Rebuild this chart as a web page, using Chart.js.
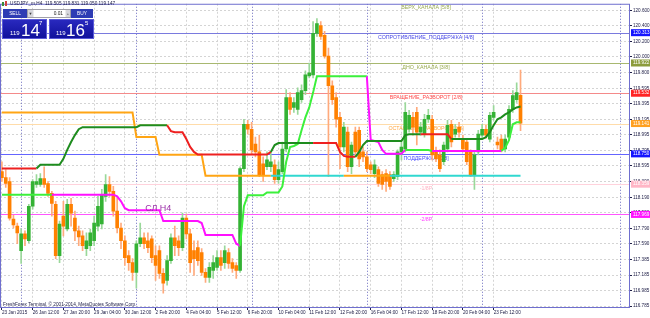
<!DOCTYPE html>
<html>
<head>
<meta charset="utf-8">
<script src="https://cdn.jsdelivr.net/npm/chart.js@4.4.1/dist/chart.umd.min.js"></script>
<style>
html,body{margin:0;padding:0;background:#fff;}
canvas{display:block;}
</style>
</head>
<body>
<canvas id="grapharea" width="650" height="318"></canvas>
<script>
// USDJPY_m, H4 - one bar every 4 hours, 23 Jan .. 23 Feb 2015
const openP = [
  118.520,118.444,118.393,117.909,117.819,117.501,117.718,117.629,118.074,118.355,
  118.355,118.431,118.368,118.240,118.100,117.437,117.947,117.781,118.100,117.922,
  117.756,117.692,117.527,117.565,117.629,117.819,117.845,118.202,118.355,118.266,
  118.011,117.794,117.629,117.437,117.348,117.221,117.591,117.667,117.629,117.654,
  117.437,117.501,117.208,117.119,117.374,117.667,117.629,117.540,117.922,117.718,
  117.501,117.540,117.476,117.221,117.157,117.246,117.285,117.412,117.348,117.476,
  117.348,117.310,117.246,118.559,119.132,119.068,118.877,118.775,118.622,118.584,
  118.584,118.610,118.418,118.520,118.813,119.476,119.349,119.323,119.450,119.565,
  119.756,119.769,120.304,120.406,120.278,120.011,119.629,119.476,119.221,118.839,
  119.030,118.584,119.030,119.055,118.775,118.712,118.610,118.495,118.546,118.482,
  118.495,118.482,118.431,118.457,118.775,118.813,119.068,119.221,119.285,119.030,
  119.004,119.196,119.196,118.775,118.737,118.648,118.813,119.132,119.004,119.094,
  118.941,118.903,118.775,118.482,118.775,118.992,119.068,118.941,119.221,118.903,
  118.941,118.813,118.966,119.323,119.450,119.505
];
const highP = [
  118.648,118.546,118.444,117.960,117.858,117.781,117.756,118.100,118.418,118.482,
  118.495,118.584,118.393,118.266,118.138,117.883,118.138,118.163,118.176,118.011,
  117.819,117.756,117.731,117.781,117.947,118.202,118.291,118.482,118.457,118.330,
  118.176,117.858,117.692,117.501,117.399,117.629,117.858,117.731,117.731,117.692,
  117.565,117.565,117.272,117.437,117.718,117.819,117.692,117.985,117.973,117.781,
  117.629,117.629,117.527,117.272,117.348,117.437,117.501,117.501,117.565,117.527,
  117.399,117.348,118.584,119.196,119.183,119.157,118.966,118.992,118.712,118.775,
  118.775,118.673,118.648,118.903,119.578,119.540,119.476,119.603,119.641,119.820,
  119.922,120.457,120.495,120.457,120.329,120.113,119.692,119.540,119.285,119.157,
  119.094,118.903,119.094,119.094,118.839,118.775,118.648,118.673,118.584,118.520,
  118.546,118.520,118.520,118.801,118.903,119.412,119.310,119.285,119.349,119.157,
  119.259,119.323,119.247,118.839,118.801,118.903,119.183,119.183,119.132,119.157,
  118.992,118.941,118.801,118.775,119.055,119.132,119.119,119.285,119.374,118.966,
  118.992,118.992,119.374,119.565,119.667,119.831
];
const lowP = [
  118.393,118.317,117.896,117.794,117.591,117.336,117.565,117.603,118.036,118.317,
  118.330,118.317,118.202,117.947,117.399,117.348,117.692,117.756,117.819,117.629,
  117.565,117.501,117.437,117.501,117.565,117.756,117.781,118.138,118.202,117.947,
  117.731,117.527,117.310,117.246,117.119,117.017,117.552,117.527,117.476,117.348,
  117.119,117.144,116.953,117.055,117.336,117.437,117.437,117.501,117.654,117.221,
  117.183,117.310,117.183,117.093,117.093,117.144,117.246,117.246,117.272,117.272,
  117.221,117.144,117.221,118.520,119.004,118.750,118.712,118.457,118.393,118.546,
  118.520,118.368,118.368,118.495,118.775,119.259,119.285,119.259,119.412,119.514,
  119.731,119.731,120.266,120.227,119.985,118.457,119.387,119.094,118.559,118.775,
  118.520,118.495,118.712,118.584,118.648,118.520,118.495,118.444,118.330,118.291,
  118.266,118.291,118.393,118.418,118.673,118.775,119.030,118.992,118.864,118.992,
  118.966,119.157,118.673,118.648,118.520,118.610,118.775,118.839,118.966,118.966,
  118.775,118.610,118.457,118.291,118.737,118.954,118.954,118.903,119.183,118.813,
  118.775,118.775,118.928,119.285,119.412,119.050
];
const closeP = [
  118.444,118.368,117.922,117.832,117.731,117.718,117.654,118.074,118.393,118.393,
  118.431,118.355,118.240,118.112,117.437,117.845,117.819,118.100,117.985,117.756,
  117.680,117.565,117.629,117.731,117.858,118.074,118.227,118.355,118.266,118.011,
  117.794,117.629,117.412,117.348,117.221,117.591,117.667,117.591,117.540,117.412,
  117.310,117.208,117.081,117.374,117.667,117.565,117.540,117.922,117.718,117.348,
  117.399,117.374,117.221,117.157,117.285,117.348,117.412,117.310,117.501,117.336,
  117.272,117.246,118.559,119.132,119.068,118.801,118.775,118.482,118.482,118.673,
  118.648,118.418,118.546,118.813,119.476,119.323,119.412,119.540,119.565,119.769,
  119.794,120.304,120.431,120.266,120.011,119.629,119.450,119.196,118.839,119.094,
  118.584,118.864,118.775,118.686,118.712,118.559,118.546,118.610,118.368,118.355,
  118.393,118.330,118.482,118.775,118.839,119.285,119.247,119.094,119.030,119.094,
  119.196,119.247,118.737,118.686,118.559,118.864,119.119,118.903,119.068,119.030,
  118.813,118.648,118.482,118.737,119.004,119.068,118.992,119.247,119.285,118.864,
  118.801,118.941,119.323,119.501,119.540,119.147
];

// trend line (green = 1, red = 0)
const midLine = [
  118.562,118.562,118.562,118.562,118.562,118.562,118.562,118.562,118.562,118.562,
  118.610,118.610,118.610,118.610,118.610,118.610,118.686,118.801,118.903,118.992,
  119.068,119.094,119.094,119.094,119.094,119.094,119.094,119.094,119.094,119.094,
  119.094,119.094,119.094,119.094,119.094,119.094,119.119,119.119,119.119,119.119,
  119.119,119.119,119.119,119.119,119.043,119.030,119.030,119.030,118.941,118.839,
  118.775,118.741,118.741,118.741,118.741,118.741,118.741,118.741,118.741,118.741,
  118.741,118.741,118.741,118.741,118.741,118.741,118.741,118.741,118.741,118.741,
  118.775,118.864,118.890,118.890,118.890,118.890,118.890,118.890,118.890,118.890,
  118.890,118.890,118.890,118.890,118.890,118.890,118.890,118.890,118.775,118.724,
  118.712,118.712,118.712,118.775,118.864,118.915,118.915,118.915,118.915,118.915,
  118.915,118.915,118.915,118.915,118.915,118.992,119.004,119.004,119.004,119.004,
  119.004,119.004,119.004,119.004,119.004,119.004,119.004,118.941,118.941,118.941,
  118.941,118.941,118.941,118.941,118.941,118.941,118.966,119.030,119.119,119.196,
  119.221,119.259,119.285,119.323,119.349,119.361
];
const midTrend = [
  0,0,0,0,0,0,0,0,0,1, 1,1,1,1,1,1,1,1,1,1,
  1,1,1,1,1,1,1,1,1,1, 1,1,1,1,1,1,1,1,1,1,
  1,1,1,0,0,0,0,0,0,0, 0,0,0,0,0,0,0,0,0,0,
  0,0,0,0,0,0,0,0,0,0, 1,1,1,1,1,1,1,1,1,1,
  1,0,0,0,0,0,0,0,0,0, 0,0,1,1,1,1,1,1,1,1,
  1,1,1,1,1,1,1,1,1,0, 0,0,0,0,0,0,0,1,1,1,
  1,1,1,1,1,1,1,1,1,1, 1,1,1,1,1,1
];

// stop line (orange = 1, turquoise = 0)
const stopLine = [
  119.285,119.285,119.285,119.285,119.285,119.285,119.285,119.285,119.285,119.285,
  119.285,119.285,119.285,119.285,119.285,119.285,119.285,119.285,119.285,119.285,
  119.285,119.285,119.285,119.285,119.285,119.285,119.285,119.285,119.285,119.285,
  119.285,119.285,119.285,119.285,119.285,118.966,118.966,118.966,118.966,118.966,
  118.966,118.737,118.737,118.737,118.737,118.737,118.737,118.737,118.737,118.737,
  118.737,118.737,118.737,118.469,118.469,118.469,118.469,118.469,118.469,118.469,
  118.469,118.469,118.469,118.469,118.469,118.469,118.469,118.469,118.469,118.469,
  118.469,118.469,118.469,118.469,118.469,118.469,118.469,118.469,118.469,118.469,
  118.469,118.469,118.469,118.469,118.469,118.469,118.469,118.469,118.469,118.469,
  118.469,118.469,118.469,118.469,118.469,118.469,118.469,118.469,118.469,118.469,
  118.469,118.469,118.469,118.469,118.469,118.469,118.469,118.469,118.469,118.469,
  118.469,118.469,118.469,118.469,118.469,118.469,118.469,118.469,118.469,118.469,
  118.469,118.469,118.469,118.469,118.469,118.469,118.469,118.469,118.469,118.469,
  118.469,118.469,118.469,118.469,118.469,118.469
];
const stopTrend = [
  1,1,1,1,1,1,1,1,1,1, 1,1,1,1,1,1,1,1,1,1,
  1,1,1,1,1,1,1,1,1,1, 1,1,1,1,1,1,1,1,1,1,
  1,1,1,1,1,1,1,1,1,1, 1,1,1,1,1,1,1,1,1,1,
  1,1,1,1,1,1,1,1,1,1, 0,0,0,0,0,0,0,0,0,0,
  0,0,0,0,0,0,0,0,0,1, 1,1,1,1,1,1,1,1,1,1,
  1,0,0,0,0,0,0,0,0,0, 0,0,0,0,0,0,0,0,0,0,
  0,0,0,0,0,0,0,0,0,0, 0,0,0,0,0,0
];

// СЛ H4 line (lime = 1, magenta = 0)
const slLine = [
  118.224,118.224,118.224,118.224,118.224,118.224,118.224,118.224,118.224,118.224,
  118.224,118.224,118.224,118.224,118.224,118.224,118.224,118.224,118.224,118.224,
  118.224,118.224,118.224,118.224,118.224,118.224,118.224,118.224,118.224,118.224,
  118.202,118.138,118.049,118.024,118.024,118.024,118.024,118.024,118.024,118.024,
  118.024,118.024,117.883,117.883,117.883,117.883,117.883,117.883,117.883,117.883,
  117.883,117.883,117.858,117.705,117.705,117.705,117.705,117.705,117.705,117.705,
  117.705,117.591,117.565,118.074,118.215,118.215,118.215,118.215,118.215,118.253,
  118.253,118.253,118.253,118.330,118.648,118.839,118.852,118.877,119.055,119.221,
  119.349,119.540,119.750,119.750,119.750,119.750,119.750,119.750,119.750,119.750,
  119.750,119.750,119.750,119.750,119.750,119.750,118.928,118.915,118.903,118.801,
  118.750,118.750,118.750,118.750,118.750,118.801,118.801,118.801,118.801,118.801,
  118.801,118.801,118.788,118.788,118.788,118.788,118.788,118.788,118.788,118.788,
  118.788,118.788,118.788,118.788,118.788,118.788,118.788,118.788,118.788,118.788,
  118.788,118.826,118.928,119.132,119.157,119.157
];
const slTrend = [
  1,1,1,1,1,1,1,1,1,1, 1,1,1,0,0,0,0,0,0,0,
  0,0,0,0,0,0,0,0,0,0, 0,0,0,0,0,0,0,0,0,0,
  0,0,0,0,0,0,0,0,0,0, 0,0,0,0,0,0,0,0,0,0,
  0,0,1,1,1,1,1,1,1,1, 1,1,1,1,1,1,1,1,1,1,
  1,1,1,1,1,1,1,1,1,1, 1,1,1,1,1,0,0,0,0,0,
  0,0,0,0,0,1,1,1,1,1, 1,1,0,0,0,0,0,0,0,0,
  0,0,0,0,0,0,0,0,0,0, 1,1,1,1,1,1
];

// Murrey levels
const levelPrices = [120.703, 120.313, 119.922, 119.532, 119.141, 118.750, 118.359, 117.969];
const levelNames = ['ВЕРХ_КАНАЛА [5/8]', 'СОПРОТИВЛЕНИЕ_ПОДДЕРЖКА [4/8]', 'ДНО_КАНАЛА [3/8]',
  'ВРАЩЕНИЕ_РАЗВОРОТ [2/8]', 'ОСТАНОВКА_РАЗВОРОТ [1/8]', 'ПОДДЕРЖКА [0/8]', '-1/8P', '-2/8P'];
const levelLineColor = ['#a8b870', '#7a7ade', '#a8b870', '#f48a8a', '#ffdcaa', '#6464ff', '#ffd2dc', '#ff55ff'];
const levelTextColor = ['#98aa50', '#4848e6', '#98aa50', '#ff4a4a', '#ffa640', '#4646ff', '#ffb4c4', '#ff44ff'];
const levelBoxColor = [null, '#1414ff', '#8c9c3c', '#ff2424', '#ffa020', '#1414ff', '#ffb6c6', '#ff12ff'];
const levelTextBar = 110.4;

const yTicks = [120.600, 120.400, 120.200, 120.000, 119.800, 119.595, 119.395, 119.195, 118.995, 118.795,
  118.595, 118.390, 118.190, 117.990, 117.790, 117.590, 117.385, 117.185, 116.985, 116.785];
const timeLabels = ['23 Jan 2015', '26 Jan 12:00', '27 Jan 20:00', '29 Jan 04:00', '30 Jan 12:00',
  '2 Feb 20:00', '4 Feb 04:00', '5 Feb 12:00', '6 Feb 20:00', '10 Feb 04:00', '11 Feb 12:00',
  '12 Feb 20:00', '16 Feb 04:00', '17 Feb 12:00', '18 Feb 20:00', '20 Feb 04:00', '23 Feb 12:00'];
const labelStep = 8;
const sepBars = [5, 35, 65, 95, 125, 161];
const slLabel = {text: 'СЛ H4', bar: 37.3, price: 118.05};
const barSlots = 164;

const axisFont = '4.6px "Liberation Sans"';
const navy = '#202048';

function drawPanel(ctx) {
    ctx.save();
    // header line
    ctx.fillStyle = '#3a8a3a'; ctx.fillRect(2, 2, 2, 4);
    ctx.fillStyle = '#d04040'; ctx.fillRect(5, 1, 2, 5);
    ctx.font = '4.7px "Liberation Sans"';
    ctx.fillStyle = navy; ctx.textAlign = 'left'; ctx.textBaseline = 'middle';
    ctx.fillText('USDJPY_m,H4  119.505 119.831 119.050 119.147', 10, 4);

    // buttons row
    ctx.fillStyle = '#2e3cb4'; ctx.fillRect(3, 9, 24, 9); ctx.fillRect(71, 9, 22, 9);
    ctx.fillStyle = '#ececec'; ctx.fillRect(27, 9, 44, 9);
    ctx.fillStyle = '#ffffff'; ctx.fillRect(34, 10, 31, 7);
    ctx.strokeStyle = '#a0a0a8'; ctx.lineWidth = 1; ctx.strokeRect(27.5, 9.5, 43, 8);
    ctx.fillStyle = '#d6d6dc'; ctx.fillRect(28, 10, 5, 7); ctx.fillRect(66, 10, 4, 7);
    ctx.fillStyle = '#404040'; ctx.font = '4px "Liberation Sans"'; ctx.textAlign = 'center';
    ctx.fillText('▼', 30.5, 13.5); ctx.fillText('+', 68, 13.5);
    ctx.font = '4.8px "Liberation Sans"'; ctx.textAlign = 'right'; ctx.fillStyle = '#202020';
    ctx.fillText('0.01', 63, 13.5);
    ctx.fillStyle = '#ffffff'; ctx.textAlign = 'center';
    ctx.fillText('SELL', 15, 13.5); ctx.fillText('BUY', 82, 13.5);

    // price boxes
    [[2, 45], [49, 45]].forEach(b => {
        const g = ctx.createLinearGradient(0, 19, 0, 39);
        g.addColorStop(0, '#2a2ac0'); g.addColorStop(1, '#10109a');
        ctx.fillStyle = g; ctx.fillRect(b[0], 19, b[1], 20);
        ctx.strokeStyle = '#5a5ad8'; ctx.strokeRect(b[0] + 0.5, 19.5, b[1] - 1, 19);
    });
    ctx.fillStyle = '#ffffff'; ctx.textAlign = 'left'; ctx.textBaseline = 'alphabetic';
    ctx.font = '6px "Liberation Sans"';
    ctx.fillText('119', 10, 35); ctx.fillText('119', 56, 35);
    ctx.fillText('7', 39, 25); ctx.fillText('5', 85, 25);
    ctx.font = '17px "Liberation Sans"';
    ctx.fillText('14', 21, 36); ctx.fillText('16', 66, 36);
    ctx.restore();
}

const mtDecor = {
    id: 'mtDecor',
    beforeDatasetsDraw(chart) {
        const {ctx, chartArea: a, scales: {x, y}} = chart;
        ctx.save();
        ctx.beginPath(); ctx.rect(a.left, a.top, a.right - a.left, a.bottom - a.top); ctx.clip();
        // period separators
        ctx.strokeStyle = '#6a6abf'; ctx.lineWidth = 1; ctx.setLineDash([1, 2]);
        sepBars.forEach(b => {
            const px = Math.round(x.getPixelForValue(b)) + 0.5;
            ctx.beginPath(); ctx.moveTo(px, a.top); ctx.lineTo(px, a.bottom); ctx.stroke();
        });
        ctx.setLineDash([]);
        // levels
        levelPrices.forEach((p, k) => {
            const py = Math.round(y.getPixelForValue(p)) + 0.5;
            ctx.strokeStyle = levelLineColor[k];
            ctx.beginPath(); ctx.moveTo(a.left, py); ctx.lineTo(a.right, py); ctx.stroke();
        });
        ctx.font = '5.3px "Liberation Sans"'; ctx.textAlign = 'center'; ctx.textBaseline = 'top';
        const tx = x.getPixelForValue(levelTextBar);
        levelNames.forEach((n, k) => {
            ctx.fillStyle = levelTextColor[k];
            ctx.fillText(n, tx, y.getPixelForValue(levelPrices[k]) + 2);
        });
        ctx.restore();
    },
    afterDatasetsDraw(chart) {
        const {ctx, scales: {x, y}} = chart;
        ctx.save();
        ctx.font = '9px "Liberation Sans"'; ctx.fillStyle = '#9b30a8';
        ctx.textAlign = 'left'; ctx.textBaseline = 'middle';
        ctx.fillText(slLabel.text, x.getPixelForValue(slLabel.bar), y.getPixelForValue(slLabel.price));
        ctx.restore();
    },
    afterDraw(chart) {
        const {ctx, chartArea: a, scales: {y}} = chart;
        ctx.save();
        ctx.strokeStyle = '#6f6fcf'; ctx.lineWidth = 1;
        ctx.strokeRect(a.left + 0.5, a.top + 0.5, a.right - a.left - 1, a.bottom - a.top - 1);
        ctx.font = axisFont; ctx.textAlign = 'left'; ctx.textBaseline = 'middle';
        levelPrices.forEach((p, k) => {
            if (!levelBoxColor[k]) return;
            const py = y.getPixelForValue(p);
            ctx.fillStyle = levelBoxColor[k];
            ctx.fillRect(a.right + 1, py - 3.5, chart.width - a.right - 1, 7);
            ctx.fillStyle = '#ffffff';
            ctx.fillText(p.toFixed(3), a.right + 3, py);
        });
        ctx.fillStyle = navy; ctx.font = '4.7px "Liberation Sans"';
        ctx.fillText('FreshForex Terminal, © 2001-2014, MetaQuotes Software Corp.', 3, a.bottom - 3);
        ctx.restore();
        drawPanel(ctx);
    }
};

const bullBody = '#34b234', bearBody = '#ff8000', bullWick = '#9ad89a', bearWick = '#ffaa7c';
const isBull = closeP.map((c, i) => c >= openP[i]);

const grapharea = document.getElementById('grapharea');
const CurrencyChart = new Chart(grapharea, {
    type: 'bar',
    data: {
        labels: Array.from({length: barSlots}, (_, i) => i),
        datasets: [
            {
                type: 'line', label: 'mid', data: midLine, order: 0,
                borderWidth: 2, pointRadius: 0, tension: 0, borderColor: '#1e8c1e',
                segment: {borderColor: c => midTrend[c.p0DataIndex] ? '#1e8c1e' : '#ee2020'}
            },
            {
                type: 'line', label: 'sl', data: slLine, order: 0,
                borderWidth: 2, pointRadius: 0, tension: 0, borderColor: '#3cf03c',
                segment: {borderColor: c => slTrend[c.p0DataIndex] ? '#3cf03c' : '#ff10ff'}
            },
            {
                type: 'line', label: 'stop', data: stopLine, order: 0,
                borderWidth: 2, pointRadius: 0, tension: 0, borderColor: '#ffa514',
                segment: {borderColor: c => stopTrend[c.p0DataIndex] ? '#ffa514' : '#30d8d0'}
            },
            {
                label: 'body', order: 1, grouped: false,
                data: openP.map((o, i) => [o, closeP[i]]),
                backgroundColor: isBull.map(b => b ? bullBody : bearBody),
                barThickness: 3, minBarLength: 1, borderWidth: 0
            },
            {
                label: 'wick', order: 2, grouped: false,
                data: lowP.map((l, i) => [l, highP[i]]),
                backgroundColor: isBull.map(b => b ? bullWick : bearWick),
                barThickness: 1, borderWidth: 0
            }
        ]
    },
    options: {
        responsive: false,
        animation: false,
        devicePixelRatio: 1,
        layout: {padding: 0},
        plugins: {legend: {display: false}, tooltip: {enabled: false}},
        scales: {
            x: {
                offset: true,
                afterBuildTicks: axis => {
                    axis.ticks = timeLabels.map((t, k) => ({value: k * labelStep}));
                },
                afterFit: axis => { axis.height = 10; },
                ticks: {
                    autoSkip: false, maxRotation: 0, align: 'start', padding: 0,
                    color: navy, font: {family: 'Liberation Sans', size: 4.6},
                    callback: v => timeLabels[v / labelStep]
                },
                grid: {offset: false, color: '#d4d4d4', tickLength: 2, tickColor: navy},
                border: {display: false, dash: [2, 2]}
            },
            y: {
                position: 'right',
                min: 116.762,
                max: 120.686,
                afterBuildTicks: axis => {
                    axis.ticks = yTicks.map(v => ({value: v}));
                },
                afterFit: axis => { axis.width = 20; },
                ticks: {
                    autoSkip: false, padding: 1, color: navy,
                    font: {family: 'Liberation Sans', size: 4.6},
                    callback: v => v.toFixed(3)
                },
                grid: {color: '#d4d4d4', tickLength: 2, tickColor: navy},
                border: {display: false, dash: [2, 2]}
            }
        }
    },
    plugins: [mtDecor]
});
</script>
</body>
</html>
